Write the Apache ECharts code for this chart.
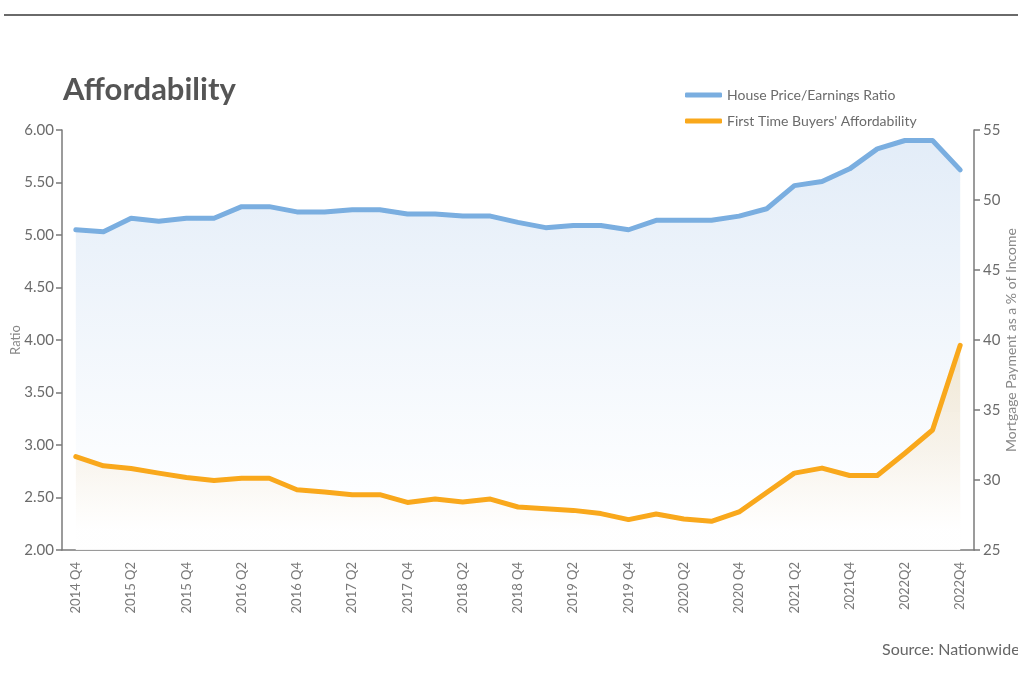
<!DOCTYPE html>
<html>
  <head>
    <meta charset="UTF-8" />
    <title>Affordability</title>
    <style>
      html,
      body {
        margin: 0;
        padding: 0;
        background: #fff;
      }
      #main {
        width: 1018px;
        height: 675px;
      }
    </style>
    <script src="https://cdn.jsdelivr.net/npm/echarts@6/dist/echarts.min.js"></script>
  </head>
  <body>
    <div id="main"></div>
    <script>
      // quarters, 2014 Q4 .. 2022 Q4
      var quarters = [
        "2014 Q4", "2015 Q1", "2015 Q2", "2015 Q3", "2015 Q4", "2016 Q1",
        "2016 Q2", "2016 Q3", "2016 Q4", "2017 Q1", "2017 Q2", "2017 Q3",
        "2017 Q4", "2018 Q1", "2018 Q2", "2018 Q3", "2018 Q4", "2019 Q1",
        "2019 Q2", "2019 Q3", "2019 Q4", "2020 Q1", "2020 Q2", "2020 Q3",
        "2020 Q4", "2021 Q1", "2021 Q2", "2021Q3", "2021Q4", "2022Q1",
        "2022Q2", "2022Q3", "2022Q4"
      ];
      // house price / earnings ratio (left axis)
      var priceEarnings = [
        5.05, 5.03, 5.16, 5.13, 5.16, 5.16, 5.27, 5.27, 5.22, 5.22, 5.24,
        5.24, 5.2, 5.2, 5.18, 5.18, 5.12, 5.07, 5.09, 5.09, 5.05, 5.14, 5.14,
        5.14, 5.18, 5.25, 5.47, 5.51, 5.63, 5.82, 5.9, 5.9, 5.62
      ];
      // mortgage payment as % of income (right axis)
      var ftbAfford = [
        31.67, 31.01, 30.82, 30.49, 30.18, 29.96, 30.13, 30.13, 29.3, 29.14,
        28.95, 28.95, 28.4, 28.64, 28.43, 28.64, 28.07, 27.95, 27.83, 27.6,
        27.17, 27.57, 27.22, 27.05, 27.72, 29.11, 30.49, 30.85, 30.32, 30.32,
        31.91, 33.57, 39.62
      ];
      var leftTicks = [2, 6, 0.5];
      var rightTicks = [25, 55, 5];

      var font = "Lato, 'Open Sans', sans-serif";
      var axisGrey = "#7a7a7a";
      var labelGrey = "#6b6b6b";

      var chart = echarts.init(document.getElementById("main"));

      var option = {
        animation: false,
        textStyle: { fontFamily: font },
        title: {
          text: "Affordability",
          left: 58,
          top: 69,
          textStyle: {
            fontFamily: font,
            fontSize: 31,
            fontWeight: "bold",
            color: "#555"
          }
        },
        graphic: [
          {
            type: "line",
            shape: { x1: 4, y1: 15, x2: 1018, y2: 15 },
            style: { stroke: "#6a6a6a", lineWidth: 2 }
          },
          {
            type: "text",
            left: 882,
            top: 642,
            style: {
              text: "Source: Nationwide",
              fontFamily: font,
              fontSize: 16,
              fill: "#666"
            }
          }
        ],
        legend: {
          orient: "vertical",
          left: 680,
          top: 83,
          itemWidth: 37,
          itemHeight: 5,
          itemGap: 12,
          icon: "roundRect",
          textStyle: { fontFamily: font, fontSize: 14, color: labelGrey },
          data: ["House Price/Earnings Ratio", "First Time Buyers' Affordability"]
        },
        grid: {
          left: 62,
          right: 44,
          top: 130,
          bottom: 125,
          containLabel: false,
          outerBoundsMode: "none"
        },
        xAxis: {
          type: "category",
          data: quarters,
          boundaryGap: true,
          axisLine: { lineStyle: { color: axisGrey, width: 1.5 } },
          axisTick: {
            interval: 0,
            length: 6,
            lineStyle: { color: axisGrey, width: 1.5 }
          },
          axisLabel: {
            interval: 1,
            rotate: 90,
            margin: 12,
            fontFamily: font,
            fontSize: 13,
            color: "#7a7a7a"
          }
        },
        yAxis: [
          {
            type: "value",
            min: leftTicks[0],
            max: leftTicks[1],
            interval: leftTicks[2],
            name: "Ratio",
            nameLocation: "middle",
            nameGap: 40,
            nameRotate: 90,
            nameMoveOverlap: false,
            nameTextStyle: { fontFamily: font, fontSize: 13, color: "#888" },
            axisLine: { show: true, lineStyle: { color: axisGrey, width: 1.5 } },
            axisTick: { show: true, length: 6, lineStyle: { color: axisGrey, width: 1.5 } },
            axisLabel: {
              margin: 8,
              fontFamily: font,
              fontSize: 15,
              color: labelGrey,
              formatter: function (v) {
                return v.toFixed(2);
              }
            },
            splitLine: { show: false }
          },
          {
            type: "value",
            min: rightTicks[0],
            max: rightTicks[1],
            interval: rightTicks[2],
            position: "right",
            name: "Mortgage Payment as a % of Income",
            nameLocation: "middle",
            nameGap: 30,
            nameRotate: 90,
            nameMoveOverlap: false,
            nameTextStyle: { fontFamily: font, fontSize: 14, color: "#888" },
            axisLine: { show: true, lineStyle: { color: axisGrey, width: 1.5 } },
            axisTick: { show: true, length: 6, lineStyle: { color: axisGrey, width: 1.5 } },
            axisLabel: {
              margin: 9,
              fontFamily: font,
              fontSize: 15,
              color: labelGrey
            },
            splitLine: { show: false }
          }
        ],
        series: [
          {
            name: "House Price/Earnings Ratio",
            type: "line",
            yAxisIndex: 0,
            data: priceEarnings,
            symbol: "none",
            color: "#7aaee0",
            lineStyle: { width: 5, color: "#7aaee0", cap: "round", join: "round" },
            areaStyle: {
              color: new echarts.graphic.LinearGradient(0, 0, 0, 1, [
                { offset: 0, color: "rgba(214,228,244,1)" },
                { offset: 0.93, color: "rgba(255,255,255,1)" },
                { offset: 1, color: "rgba(255,255,255,1)" }
              ])
            },
            z: 2
          },
          {
            name: "First Time Buyers' Affordability",
            type: "line",
            yAxisIndex: 1,
            data: ftbAfford,
            symbol: "none",
            color: "#f9a81c",
            lineStyle: { width: 5, color: "#f9a81c", cap: "round", join: "round" },
            areaStyle: {
              color: new echarts.graphic.LinearGradient(0, 0, 0, 1, [
                { offset: 0, color: "rgba(238,222,190,0.95)" },
                { offset: 0.5, color: "rgba(246,238,224,0.9)" },
                { offset: 0.9, color: "rgba(255,255,255,0.9)" },
                { offset: 1, color: "rgba(255,255,255,0.9)" }
              ])
            },
            z: 3
          }
        ]
      };

      chart.setOption(option);
    </script>
  </body>
</html>
